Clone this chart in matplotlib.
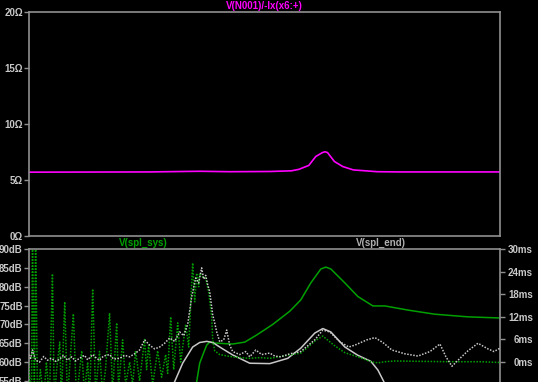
import matplotlib
matplotlib.use('Agg')
import matplotlib.pyplot as plt
import numpy as np

# ---- data, frequency in Hz
z_freq = [10, 59, 123, 191, 343, 470, 525, 607, 673, 742, 770, 799, 884, 1000, 1166, 1664, 2307, 10000]
z_ohm = [5.70, 5.72, 5.78, 5.74, 5.76, 5.82, 5.95, 6.3, 7.1, 7.45, 7.52, 7.45, 6.65, 6.2, 5.9, 5.74, 5.72, 5.72]

sys_mag_freq = [106, 117.5, 122.8, 130.2, 136.1, 142.2, 148.6, 177.2, 199.2, 237.6, 283.3, 358.3,
                459.7, 540, 625.5, 724.4, 779.4, 838.7, 1030, 1246, 1553, 1851, 2594, 3855, 6255, 10000]
sys_mag_db = [50, 54.8, 59.7, 62.5, 64.5, 65.3, 65.1, 64.9, 64.8, 65.3, 67.2, 70,
              73.5, 76.5, 81, 84.7, 85.2, 84.7, 81, 77.4, 74.9, 74.9, 73.8, 72.7, 72, 71.7]

end_mag_freq = [73.5, 85.1, 95.7, 110.8, 122.8, 136.1, 148.6, 172.1, 199.2, 255.7, 343, 446.4,
                540, 663, 745.8, 838.7, 1030, 1246, 1508, 1671, 1824, 1992]
end_mag_db = [50, 54.8, 59.7, 64, 65.2, 65.5, 65.2, 63.5, 61.9, 59.7, 59.6, 61,
              63.7, 67.7, 68.9, 68, 64, 61.8, 60.2, 57.9, 54.8, 50]

sys_gd_freq = [10, 10.45, 10.6, 10.9, 11.1, 11.4, 11.9, 12.5, 13.0, 13.6, 14.2, 14.6, 15.1, 15.8,
               16.2, 17.0, 17.7, 18.5, 19.3, 20.2, 21.8, 22.7, 23.8, 24.5, 25.6, 26.7, 28.3, 29.6,
               30.9, 32.8, 34.3, 36.4, 37.4, 39.7, 41.5, 44.0, 46.0, 48.0, 50.9, 54.8, 56.4, 58.1,
               61.7, 66.3, 70.3, 74.6, 76.8, 80.3, 83.9, 89.0, 92.9, 100, 104.5, 110.8, 114.1,
               117.5, 121, 122.8, 128.3, 134.1, 140.1, 146.4, 148.6, 153, 164.7, 190.6, 220.8,
               255.7, 296, 343, 414.8, 540, 589.8, 673, 745.8, 876.4, 1030, 1246, 1508, 1671,
               1851, 2144, 3093, 4803, 7458, 10000]
sys_gd_ms = [0, -10, 36, -10, 36, -10, -2, -10, 0, -10, 23.4, -10, -2, 5.3,
             -10, 16, -10, 2, 12.8, -10, 3, -8, 0, -10, 19.4, -8, 2.8, -8,
             -2, 13, -8, 10.4, -7, 5.9, -6, 0, -6, 3, -5, 6, -2, 4.5,
             -6, 3, -4, 2, -3, 12, -2, 10.4, 0, 10, 4, 26.3, 16,
             23.6, 20, 23.6, 22.6, 22.3, 18.6, 12, 5.9, 3, 2, 1.5, 1.2,
             1, 1.2, 1, 1.6, 2.4, 3.7, 5.8, 6.9, 4.5, 2.5, 1.4, 0.1, -0.2,
             0.1, 0.3, 0.2, 0.1, 0.1, -0.1]

end_gd_freq = [10, 10.3, 10.6, 11.1, 11.75, 12.5, 13.2, 14.0, 14.9, 15.8, 16.7, 17.7, 18.8, 19.9,
               21.1, 22.7, 23.8, 25.6, 27.1, 28.3, 30.0, 32.8, 34.8, 38.0, 40.9, 44.0, 47.3, 50.9,
               54.8, 59.0, 63.5, 68.3, 73.5, 79.1, 85.1, 91.6, 97.1, 103, 109.2, 115.8, 121,
               126.4, 130.2, 134.1, 138.1, 142.2, 148.6, 153, 157.6, 164.7, 174.6, 182.4, 190.6,
               199.2, 220.8, 241.1, 255.7, 279.2, 304.9, 343, 368.9, 402.8, 459.7, 540, 663,
               745.8, 827, 957, 1092, 1192, 1422, 1599, 1798, 2051, 2483, 3004, 3583, 4148,
               4529, 4946, 5563, 6255, 7244, 8387, 9157, 10000]
end_gd_ms = [2, 1, 3.2, 0.5, 0, 1.5, 0.5, 1, 0.2, 0.8, 1.8, 0.5, 1.4, 0.3,
             1, 1.8, 0.6, 2, 1, 0.5, 1.6, 2, 0.8, 1, 1.8, 1.4, 2.2, 3.2,
             5.9, 4.5, 3.5, 4, 5, 6.4, 5.5, 8, 7, 10, 17.3, 22.3, 21,
             25, 22, 23, 20.5, 18.7, 12.5, 10.4, 8, 5.4, 5.9, 8.5, 4.5,
             2.8, 2, 2.8, 1.4, 3.2, 2, 2.4, 1.6, 1.4, 2.2, 2.8, 5.9,
             8.5, 8, 5.4, 4, 4.5, 5.9, 6.5, 5.2, 3.2, 2.2, 1.6, 2.8, 4.8,
             1.4, -1.1, 1, 3, 5, 3.5, 2.8, 3.7]

z_ticks = [0, 5, 10, 15, 20]
db_ticks = [55, 60, 65, 70, 75, 80, 85, 90]
ms_ticks = [0, 6, 12, 18, 24, 30]

# ---- styling
BG = 'black'
FRAME = '#909090'
TXT = '#c8c8c8'
MAGENTA = '#ff00ff'
GREEN = '#00a000'
GRAY = '#c8c8c8'
plt.rcParams['font.family'] = ['Liberation Sans', 'DejaVu Sans']
plt.rcParams['font.size'] = 7
plt.rcParams['font.weight'] = 'bold'

fig = plt.figure(figsize=(5.38, 3.82), dpi=100, facecolor=BG)

W, H = 538.0, 382.0
left, right = 28.5 / W, 500 / W
TICK_LEN = 3.6   # points, ~5 px

def style(ax):
    ax.set_facecolor(BG)
    for s in ax.spines.values():
        s.set_color(FRAME)
        s.set_linewidth(1.2)
    ax.tick_params(colors=FRAME, labelcolor=TXT, length=TICK_LEN, width=1,
                   labelsize=7, pad=0.5)
    ax.set_xscale('log')
    ax.set_xlim(10, 10000)
    ax.set_xticks([])
    ax.minorticks_off()
    ax.tick_params(axis='x', which='both', bottom=False, top=False, labelbottom=False)

# top panel: impedance
ax1 = fig.add_axes([left, 1 - 236 / H, right - left, (236 - 12) / H])
style(ax1)
ax1.plot(z_freq, z_ohm, color=MAGENTA, lw=1.2)
ax1.set_ylim(0, 20)
ax1.set_yticks(z_ticks)
ax1.set_yticklabels([f'{v}\u03a9' for v in z_ticks])
ax1.set_title('V(N001)/-Ix(x6:+)', color=MAGENTA, fontsize=7, fontweight='bold', pad=2)

# bottom panel: SPL + group delay (runs off the bottom of the picture)
bot_px = 249 + 50 * 3.77
ax2 = fig.add_axes([left, 1 - bot_px / H, right - left, (bot_px - 249) / H])
style(ax2)
ax2.plot(sys_mag_freq, sys_mag_db, color=GREEN, lw=1.1)
ax2.plot(end_mag_freq, end_mag_db, color=GRAY, lw=1.1)
ax2.set_ylim(40, 90)
ax2.set_yticks(db_ticks)
ax2.set_yticklabels([f'{v}dB' for v in db_ticks])

ax3 = ax2.twinx()
ax3.set_xscale('log')
ax3.set_xlim(10, 10000)
ax3.set_ylim(-20, 30)
ax3.plot(sys_gd_freq, sys_gd_ms, color=GREEN, lw=1.1, ls=(0, (1, 1)))
ax3.plot(end_gd_freq, end_gd_ms, color=GRAY, lw=1.1, ls=(0, (1, 1)))
ax3.set_yticks(ms_ticks)
ax3.set_yticklabels([f'{v}ms' for v in ms_ticks])
for s in ax3.spines.values():
    s.set_visible(False)
ax3.tick_params(colors=FRAME, labelcolor=TXT, length=TICK_LEN, width=1, labelsize=7, pad=20)
for lbl in ax3.get_yticklabels():
    lbl.set_horizontalalignment('right')

fig.text(143 / W, 1 - 243 / H, 'V(spl_sys)', color=GREEN, ha='center', va='center', fontsize=7)
fig.text(381 / W, 1 - 243 / H, 'V(spl_end)', color='#b0b0b0', ha='center', va='center', fontsize=7)

fig.savefig('out.png', dpi=100, facecolor=BG)
